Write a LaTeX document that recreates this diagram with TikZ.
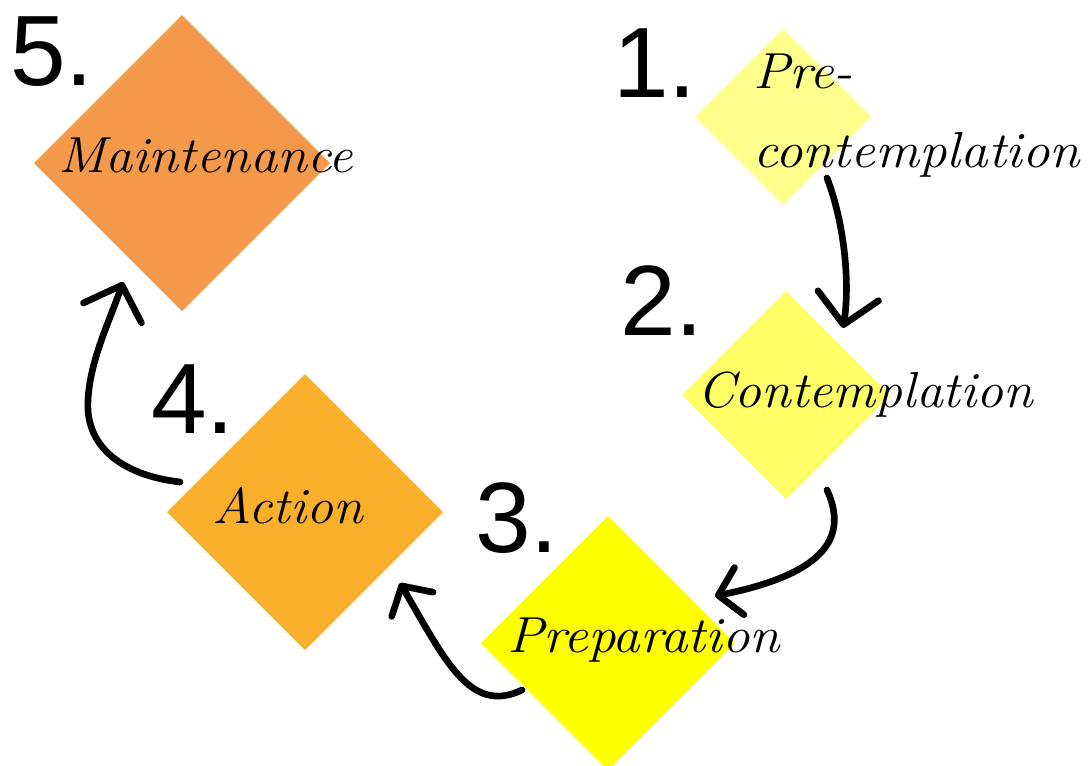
\documentclass[tikz,border=0pt]{standalone}
\usepackage{fontspec}
\usetikzlibrary{shapes.geometric,arrows.meta,calc}
\newfontfamily\numfont{Liberation Sans}
\definecolor{cpre}{HTML}{FFFF8C}
\definecolor{ccont}{HTML}{FFFF66}
\definecolor{cprep}{HTML}{FFFF00}
\definecolor{cact}{HTML}{FAAF2A}
\definecolor{cmain}{HTML}{F4994A}
\newlength\hwlen
\newcommand\hwfont{\fontsize{38}{44}\selectfont\itshape}
\newcommand\hw[2]{\settowidth\hwlen{\hwfont #2}\pgfmathsetmacro\hwfac{#1*0.75/\hwlen}\scalebox{\hwfac}[1]{\hwfont #2}}
\begin{document}
\begin{tikzpicture}[x=0.75pt,y=-0.75pt,
  stage/.style={diamond,aspect=1,inner sep=0pt,outer sep=0pt,draw=none},
  lbl/.style={anchor=base west,inner sep=0pt,outer sep=0pt},
  num/.style={anchor=base west,inner sep=0pt,outer sep=0pt,font=\numfont\fontsize{75}{80}\selectfont},
  flow/.style={line width=5pt,line cap=round,line join=round},
  bighead/.style={-{Straight Barb[length=22pt,width=46pt,round]}},
  smallhead/.style={-{Straight Barb[length=16pt,width=36pt,round]}}]
\fill[white] (0,0) rectangle (1089,765);
\useasboundingbox (0,0) rectangle (1089,765);
\clip (0,0) rectangle (1089,765);
% stages
\node[stage,fill=cpre,minimum width=132pt,minimum height=132pt] (pre) at (783,117) {};
\node[stage,fill=ccont,minimum width=156pt,minimum height=156pt] (cont) at (786,395) {};
\node[stage,fill=cprep,minimum width=190.5pt,minimum height=190.5pt] (prep) at (608,643) {};
\node[stage,fill=cact,minimum width=207pt,minimum height=207pt] (act) at (305,512) {};
\node[stage,fill=cmain,minimum width=222pt,minimum height=222pt] (main) at (182,163) {};
% labels
\node[lbl] (tmain) at (58,172) {\hw{295}{Maintenance}};
\node[lbl] (tpreA) at (753,88) {\hw{100}{Pre-}};
\node[lbl] (tpreB) at (753,167) {\hw{327}{contemplation}};
\node[lbl] (tcont) at (697,407) {\hw{336}{Contemplation}};
\node[lbl] (tprep) at (507,652) {\hw{273}{Preparation}};
\node[lbl] (tact) at (212,523) {\hw{151}{Action}};
% numbers
\node[num] (n5) at (10,85) {5.};
\node[num] (n1) at (613,97) {1.};
\node[num] (n2) at (620,335) {2.};
\node[num] (n3) at (475,552) {3.};
\node[num] (n4) at (151,433) {4.};
% arrows
\draw[flow,bighead] ($(pre.south east)+(0,17)$) .. controls +(18,47) and +(7,-43) .. ($(cont.north east)+(5,-15)$);
\draw[flow,smallhead] ($(cont.south)+(41,-9)$) .. controls +(23,50) and +(105,-21) .. ($(prep.north east)+(43.5,16.5)$);
\draw[flow,smallhead] ($(prep.south west)+(-22.5,-16.5)$) .. controls +(-52,25) and +(45,77) .. ($(act.south east)+(26,2)$);
\draw[flow,bighead] ($(act.west)+(13,-30)$) .. controls +(-60,-7) and +(-3,45) .. ($(act.west)+(-79,-112)$) .. controls +(2,-40) and +(-13,38) .. ($(main.south)+(-59,-29)$);
\end{tikzpicture}
\end{document}
